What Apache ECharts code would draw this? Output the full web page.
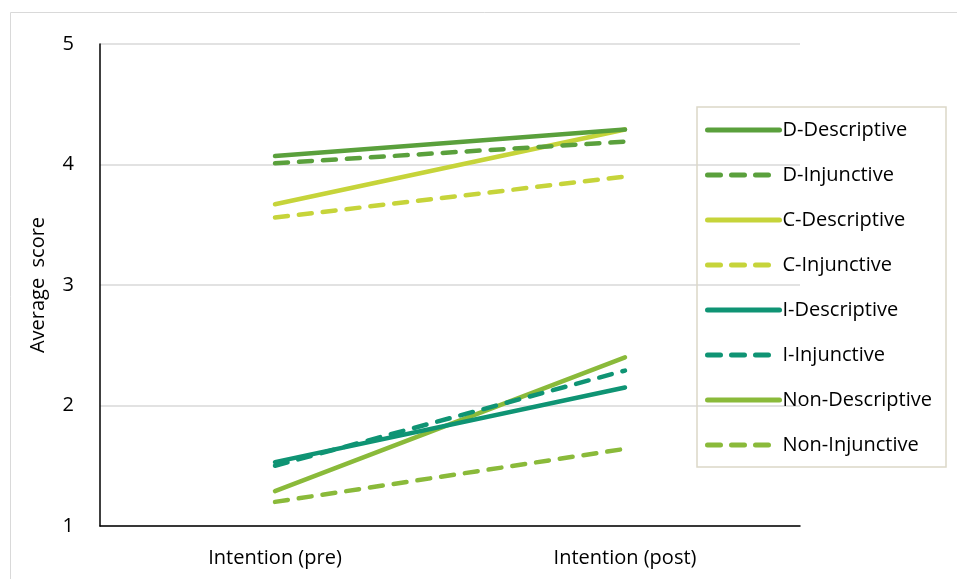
<!DOCTYPE html>
<html><head><meta charset="utf-8">
<script src="https://cdn.jsdelivr.net/npm/echarts@6/dist/echarts.min.js"></script>
<style>html,body{margin:0;padding:0;background:#fff}#c{width:957px;height:579px}</style>
</head><body><div id="c"></div>
<script>
const categories = ["Intention (pre)", "Intention (post)"];
const seriesNames = ["D-Descriptive","D-Injunctive","C-Descriptive","C-Injunctive","I-Descriptive","I-Injunctive","Non-Descriptive","Non-Injunctive"];
const dDescriptive = [4.07, 4.29];
const dInjunctive = [4.01, 4.19];
const cDescriptive = [3.67, 4.29];
const cInjunctive = [3.56, 3.90];
const iDescriptive = [1.53, 2.15];
const iInjunctive = [1.50, 2.29];
const nonDescriptive = [1.29, 2.40];
const nonInjunctive = [1.20, 1.64];
const yTicks = [1, 2, 3, 4, 5];

const seriesData = [dDescriptive, dInjunctive, cDescriptive, cInjunctive, iDescriptive, iInjunctive, nonDescriptive, nonInjunctive];
const colors = ['#5aa03c','#5aa03c','#c6d43a','#c6d43a','#0f9474','#0f9474','#8aba3a','#8aba3a'];
const font = '"Open Sans", "Noto Sans", sans-serif';

const chart = echarts.init(document.getElementById('c'));
chart.setOption({
  animation: false,
  graphic: [{type:'rect', shape:{x:10.5,y:12.5,width:960,height:600}, style:{fill:'none', stroke:'#d9d9d9', lineWidth:1}}],
  grid: {left: 100, top: 44, width: 700, height: 482, containLabel: false},
  xAxis: {
    type: 'category', data: categories, boundaryGap: true,
    axisLine: {lineStyle: {color: '#000', width: 1.5}},
    axisTick: {show: false},
    axisLabel: {color: '#000', fontSize: 20, fontFamily: font, margin: 22}
  },
  yAxis: {
    type: 'value', min: yTicks[0], max: yTicks[yTicks.length-1], interval: 1,
    name: 'Average  score', nameLocation: 'middle', nameGap: 52, nameRotate: 90,
    nameTextStyle: {color: '#000', fontSize: 20, fontFamily: font},
    axisLine: {show: true, lineStyle: {color: '#000', width: 1.5}},
    axisTick: {show: false},
    axisLabel: {color: '#000', fontSize: 20, fontFamily: font, margin: 26},
    splitLine: {lineStyle: {color: '#d9d9d9', width: 1.5}}
  },
  legend: {
    orient: 'vertical', left: 697, top: 107,
    borderColor: '#dcd8c8', borderWidth: 1.5,
    padding: [13, 14, 12, 8],
    itemWidth: 72, itemHeight: 18, itemGap: 25,
    itemStyle: {opacity: 0},
    lineStyle: {width: 5},
    textStyle: {color: '#000', fontSize: 20, fontFamily: font, padding: [0,0,0,-2]},
    data: seriesNames
  },
  series: seriesNames.map((n, i) => ({
    name: n, type: 'line', data: seriesData[i], symbol: 'none',
    color: colors[i],
    lineStyle: {color: colors[i], width: 4.5, type: i % 2 ? [13, 11] : 'solid', cap: 'round'},
    z: 10 - i
  }))
});
</script></body></html>
